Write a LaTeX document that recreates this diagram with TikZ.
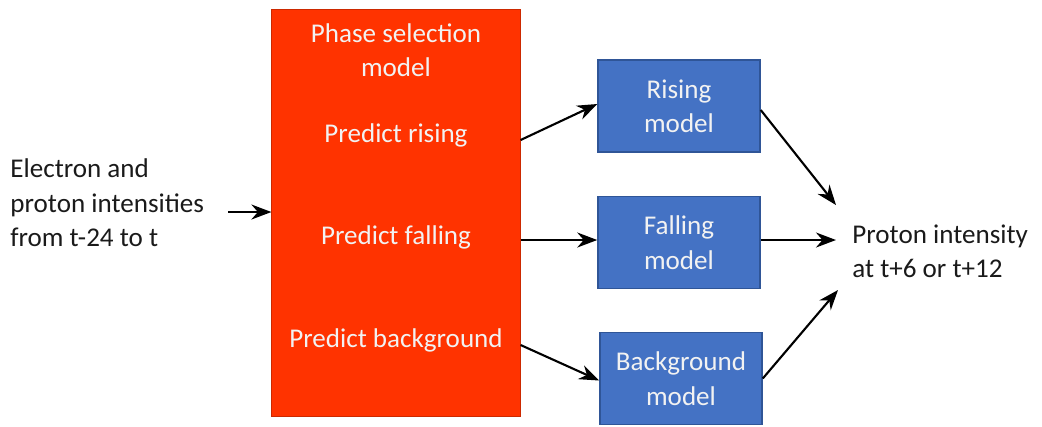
\documentclass[tikz,border=0pt]{standalone}
\usepackage{fontspec}
\setmainfont{Carlito}
\usepackage{tikz}
\usetikzlibrary{arrows.meta}
\definecolor{phasered}{HTML}{FF3300}
\definecolor{modelblue}{HTML}{4472C4}
\definecolor{modeledge}{HTML}{2F5597}
\definecolor{lighttext}{HTML}{F2F2F2}
\definecolor{darktext}{HTML}{1A1A1A}
\tikzset{
  flowarr/.style   = {-{Stealth[length=2mm,width=1.5mm]},line width=0.6pt},
  txt/.style       = {font=\fontsize{7.7}{9.8}\selectfont,align=center},
  phasebox/.style  = {fill=phasered,draw=phasered!80!black,line width=0.3pt,
                      minimum width=2.48cm,minimum height=4.06cm},
  modelbox/.style  = {txt,fill=modelblue,draw=modeledge,line width=0.4pt,text=lighttext,
                      minimum width=1.62cm,minimum height=0.92cm}
}
\begin{document}
\begin{tikzpicture}[x=0.01cm,y=-0.01cm]
  \useasboundingbox (0,0) rectangle (1042,426);
  % input and selection
  \node[txt,align=left,text=darktext,anchor=west] (inp) at (-2,203) {Electron and\\proton intensities\\from t-24 to t};
  \node[phasebox] (phase) at (396,213) {};
  \node[txt,text=lighttext] (title) at (396,50) {Phase selection\\model};
  \node[txt,text=lighttext] (prise) at (396,135) {Predict rising};
  \node[txt,text=lighttext] (pfall) at (396,237) {Predict falling};
  \node[txt,text=lighttext] (pback) at (396,340) {Predict background};
  % models
  \node[modelbox] (rise) at (679,106) {Rising\\model};
  \node[modelbox] (fall) at (679,242.5) {Falling\\model};
  \node[modelbox] (back) at (681,378.5) {Background\\model};
  % output
  \node[txt,align=left,text=darktext,anchor=west] (out) at (840,251) {Proton intensity\\at t+6 or t+12};
  \draw[flowarr] ([shift={(12,9)}]inp.east) -- (phase.west |- 0,212);
  \draw[flowarr] (phase.east |- 0,140) -- ([shift={(0,-2)}]rise.west);
  \draw[flowarr] (phase.east |- 0,240) -- (fall.west |- 0,240);
  \draw[flowarr] (phase.east |- 0,345) -- ([shift={(0,2)}]back.west);
  \draw[flowarr] ([shift={(0,4)}]rise.east) -- ([shift={(-4,-46)}]out.west);
  \draw[flowarr] (fall.east |- 0,240) -- ([shift={(-4,0)}]out.west |- 0,240);
  \draw[flowarr] (back.east) -- ([shift={(-2,39)}]out.west);
\end{tikzpicture}
\end{document}
